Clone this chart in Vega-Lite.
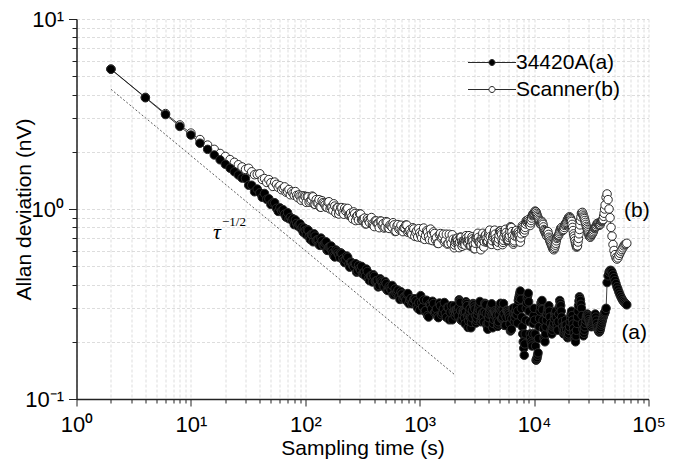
{
  "$schema": "https://vega.github.io/schema/vega-lite/v6.json",
  "width": 572,
  "height": 380,
  "autosize": {"type": "none"},
  "padding": {"left": 76.5, "top": 19, "right": 26.5, "bottom": 63},
  "config": {
    "view": {"stroke": null},
    "font": "Liberation Sans",
    "axis": {
      "domainColor": "#222222",
      "domainWidth": 1.5,
      "tickColor": "#222222",
      "tickWidth": 1,
      "labelFont": "Liberation Sans",
      "labelFontSize": 22,
      "labelColor": "#000000",
      "titleFont": "Liberation Sans",
      "titleFontSize": 21,
      "titleFontWeight": "normal",
      "titleColor": "#000000",
      "grid": true,
      "gridColor": "#d4d4d4",
      "gridDash": [3, 2],
      "gridWidth": 0.8,
      "labelOverlap": false,
      "labelBound": false,
      "labelFlush": false
    }
  },
  "encoding": {
    "x": {
      "field": "t",
      "type": "quantitative",
      "scale": {"type": "log", "domain": [1, 100000], "nice": false},
      "axis": {
        "title": "Sampling time (s)",
        "values": [1,2,3,4,5,6,7,8,9,10,20,30,40,50,60,70,80,90,100,200,300,400,500,600,700,800,900,1000,2000,3000,4000,5000,6000,7000,8000,9000,10000,20000,30000,40000,50000,60000,70000,80000,90000,100000],
        "labelExpr": "datum.value==1?'10⁰':datum.value==10?'10¹':datum.value==100?'10²':datum.value==1000?'10³':datum.value==10000?'10⁴':datum.value==100000?'10⁵':''",
        "tickSize": {"condition": {"test": "indexof([1,10,100,1000,10000,100000], datum.value) >= 0", "value": 7}, "value": 4},
        "labelPadding": 8,
        "titleY": 55.7,
        "titleBaseline": "alphabetic"
      }
    },
    "y": {
      "field": "v",
      "type": "quantitative",
      "scale": {"type": "log", "domain": [0.1, 10], "nice": false},
      "axis": {
        "title": "Allan deviation (nV)",
        "values": [0.1,0.2,0.3,0.4,0.5,0.6,0.7,0.8,0.9,1,2,3,4,5,6,7,8,9,10],
        "labelExpr": "datum.value==0.1?'10⁻¹':datum.value==1?'10⁰':datum.value==10?'10¹':''",
        "tickSize": {"condition": {"test": "indexof([0.1,1,10], datum.value) >= 0", "value": 8}, "value": 4.5},
        "labelPadding": 5,
        "titleX": -46,
        "titleY": 190,
        "titleBaseline": "alphabetic"
      }
    }
  },
  "layer": [
    {
      "data": {"values": [{"t": 2, "v": 4.27}, {"t": 2000, "v": 0.135}]},
      "mark": {"type": "line", "stroke": "#333333", "strokeWidth": 0.8, "strokeDash": [2, 2]},
      "encoding": {}
    },
    {
      "data": {"values": [
        {"t":2,"a":5.44,"b":5.45},{"t":4,"a":3.85,"b":3.87},{"t":6,"a":3.14,"b":3.18},{"t":8,"a":2.72,"b":2.77},{"t":10,"a":2.45,"b":2.51},
        {"t":12,"a":2.22,"b":2.32},{"t":14,"a":2.06,"b":2.17},{"t":16,"a":1.925,"b":2.06},{"t":18,"a":1.815,"b":1.96},{"t":20,"a":1.72,"b":1.89},
        {"t":22,"a":1.64,"b":1.82},{"t":24,"a":1.57,"b":1.76},{"t":26,"a":1.51,"b":1.71},{"t":28,"a":1.455,"b":1.665},{"t":30,"a":1.448,"b":1.615},
        {"t":32,"a":1.334,"b":1.638},{"t":34,"a":1.334,"b":1.57},{"t":36,"a":1.232,"b":1.515},{"t":38,"a":1.274,"b":1.522},{"t":40,"a":1.217,"b":1.533},
        {"t":42,"a":1.152,"b":1.431},{"t":44,"a":1.207,"b":1.446},{"t":46,"a":1.124,"b":1.38},{"t":48,"a":1.133,"b":1.428},{"t":50,"a":1.056,"b":1.374},
        {"t":52,"a":1.079,"b":1.315},{"t":54,"a":1.079,"b":1.386},{"t":56,"a":1.008,"b":1.348},{"t":58,"a":0.971,"b":1.3},{"t":60,"a":1.014,"b":1.326},
        {"t":62,"a":0.978,"b":1.263},{"t":64,"a":0.992,"b":1.283},{"t":66,"a":0.939,"b":1.308},{"t":68,"a":0.906,"b":1.226},{"t":70,"a":0.957,"b":1.235},
        {"t":72,"a":0.889,"b":1.266},{"t":74,"a":0.904,"b":1.188},{"t":76,"a":0.874,"b":1.233},{"t":78,"a":0.889,"b":1.209},{"t":80,"a":0.827,"b":1.181},
        {"t":82,"a":0.876,"b":1.235},{"t":84,"a":0.84,"b":1.179},{"t":86,"a":0.813,"b":1.148},{"t":88,"a":0.829,"b":1.187},{"t":90,"a":0.836,"b":1.169},
        {"t":92,"a":0.787,"b":1.113},{"t":94,"a":0.802,"b":1.173},{"t":96,"a":0.755,"b":1.131},{"t":98,"a":0.794,"b":1.172},{"t":100,"a":0.77,"b":1.162},
        {"t":104,"a":0.779,"b":1.162},{"t":108,"a":0.715,"b":1.086},{"t":113,"a":0.734,"b":1.12},{"t":117,"a":0.672,"b":1.159},{"t":122,"a":0.72,"b":1.058},
        {"t":127,"a":0.689,"b":1.076},{"t":132,"a":0.649,"b":1.12},{"t":137,"a":0.703,"b":1.021},{"t":143,"a":0.646,"b":1.082},{"t":149,"a":0.662,"b":1.052},
        {"t":155,"a":0.606,"b":1.019},{"t":161,"a":0.632,"b":1.092},{"t":168,"a":0.639,"b":1.022},{"t":174,"a":0.585,"b":0.983},{"t":181,"a":0.559,"b":1.036},
        {"t":189,"a":0.599,"b":1.015},{"t":196,"a":0.573,"b":0.941},{"t":204,"a":0.588,"b":1.017},{"t":213,"a":0.546,"b":0.959},{"t":221,"a":0.522,"b":1.01},
        {"t":230,"a":0.566,"b":0.995},{"t":240,"a":0.512,"b":0.927},{"t":249,"a":0.525,"b":0.951},{"t":259,"a":0.503,"b":0.887},{"t":270,"a":0.515,"b":0.945},
        {"t":281,"a":0.465,"b":0.914},{"t":292,"a":0.505,"b":0.873},{"t":304,"a":0.477,"b":0.94},{"t":316,"a":0.456,"b":0.874},{"t":329,"a":0.467,"b":0.896},
        {"t":342,"a":0.483,"b":0.836},{"t":356,"a":0.431,"b":0.872},{"t":371,"a":0.444,"b":0.889},{"t":386,"a":0.413,"b":0.833},{"t":401,"a":0.442,"b":0.808},
        {"t":417,"a":0.418,"b":0.865},{"t":434,"a":0.389,"b":0.84},{"t":452,"a":0.429,"b":0.865},{"t":470,"a":0.411,"b":0.82},{"t":489,"a":0.389,"b":0.794},
        {"t":509,"a":0.405,"b":0.858},{"t":530,"a":0.372,"b":0.796},{"t":551,"a":0.383,"b":0.823},{"t":574,"a":0.396,"b":0.8},{"t":597,"a":0.354,"b":0.825},
        {"t":621,"a":0.359,"b":0.764},{"t":646,"a":0.374,"b":0.828},{"t":672,"a":0.334,"b":0.795},{"t":700,"a":0.357,"b":0.771},{"t":728,"a":0.345,"b":0.795},
        {"t":757,"a":0.331,"b":0.824},{"t":788,"a":0.359,"b":0.754},{"t":820,"a":0.332,"b":0.777},{"t":853,"a":0.317,"b":0.735},{"t":888,"a":0.336,"b":0.785},
        {"t":924,"a":0.329,"b":0.752},{"t":961,"a":0.3,"b":0.712},
        {"t":1000,"a":0.294,"b":0.75},{"t":1040,"a":0.322,"b":0.705},{"t":1083,"a":0.332,"b":0.794},{"t":1126,"a":0.292,"b":0.724},{"t":1172,"a":0.275,"b":0.758},
        {"t":1220,"a":0.315,"b":0.689},{"t":1269,"a":0.299,"b":0.736},{"t":1320,"a":0.318,"b":0.758},{"t":1374,"a":0.288,"b":0.689},{"t":1429,"a":0.273,"b":0.66},
        {"t":1487,"a":0.32,"b":0.732},{"t":1548,"a":0.278,"b":0.703},{"t":1610,"a":0.298,"b":0.737},{"t":1676,"a":0.283,"b":0.683},{"t":1743,"a":0.304,"b":0.654},
        {"t":1814,"a":0.261,"b":0.736},{"t":1887,"a":0.31,"b":0.659},{"t":1964,"a":0.288,"b":0.693},{"t":2043,"a":0.274,"b":0.667},{"t":2126,"a":0.294,"b":0.701},
        {"t":2212,"a":0.333,"b":0.626},{"t":2302,"a":0.26,"b":0.709},{"t":2395,"a":0.291,"b":0.671},{"t":2492,"a":0.249,"b":0.646},{"t":2593,"a":0.31,"b":0.682},
        {"t":2698,"a":0.278,"b":0.724},{"t":2807,"a":0.237,"b":0.641},{"t":2921,"a":0.318,"b":0.678},{"t":3039,"a":0.297,"b":0.618},{"t":3162,"a":0.266,"b":0.719},
        {"t":3290,"a":0.306,"b":0.673},{"t":3424,"a":0.255,"b":0.61},{"t":3562,"a":0.285,"b":0.745},{"t":3706,"a":0.319,"b":0.715},{"t":3857,"a":0.249,"b":0.668},
        {"t":4013,"a":0.268,"b":0.739},{"t":4175,"a":0.307,"b":0.658},{"t":4344,"a":0.237,"b":0.711},{"t":4520,"a":0.291,"b":0.774},{"t":4703,"a":0.276,"b":0.658},
        {"t":4894,"a":0.255,"b":0.695},{"t":5092,"a":0.319,"b":0.766},{"t":5298,"a":0.27,"b":0.649},{"t":5513,"a":0.244,"b":0.746},{"t":5736,"a":0.293,"b":0.722},
        {"t":5968,"a":0.282,"b":0.689},{"t":6210,"a":0.228,"b":0.806},{"t":6462,"a":0.296,"b":0.721},{"t":6723,"a":0.256,"b":0.68},{"t":6996,"a":0.305,"b":0.771},
        {"t":7279,"a":0.33,"b":0.758},{"t":7574,"a":0.37,"b":0.669},{"t":7880,"a":0.24,"b":0.816},{"t":8200,"a":0.17,"b":0.752},{"t":8532,"a":0.3,"b":0.867},
        {"t":8877,"a":0.36,"b":0.879},{"t":9237,"a":0.22,"b":0.819},{"t":9611,"a":0.19,"b":0.922},
        {"t":10000,"a":0.3,"b":0.95},{"t":10405,"a":0.16,"b":0.965},{"t":10827,"a":0.175,"b":0.9},{"t":11264,"a":0.29,"b":0.84},{"t":11721,"a":0.33,"b":0.86},
        {"t":12195,"a":0.21,"b":0.78},{"t":12689,"a":0.24,"b":0.74},{"t":13203,"a":0.3,"b":0.76},{"t":13738,"a":0.27,"b":0.68},{"t":14294,"a":0.22,"b":0.64},
        {"t":14873,"a":0.25,"b":0.61},{"t":15476,"a":0.29,"b":0.66},{"t":16103,"a":0.23,"b":0.72},{"t":16755,"a":0.33,"b":0.76},{"t":17433,"a":0.27,"b":0.8},
        {"t":18139,"a":0.22,"b":0.78},{"t":18874,"a":0.26,"b":0.84},{"t":19638,"a":0.21,"b":0.88},{"t":20434,"a":0.24,"b":0.91},{"t":21261,"a":0.29,"b":0.86},
        {"t":22122,"a":0.235,"b":0.74},{"t":23018,"a":0.2,"b":0.66},{"t":23950,"a":0.27,"b":0.64},{"t":24920,"a":0.345,"b":0.78},{"t":25929,"a":0.3,"b":0.95},
        {"t":26979,"a":0.215,"b":0.92},{"t":28072,"a":0.25,"b":0.85},{"t":29209,"a":0.28,"b":0.78},{"t":30392,"a":0.255,"b":0.72},{"t":31623,"a":0.24,"b":0.73},
        {"t":32903,"a":0.26,"b":0.76},{"t":34236,"a":0.28,"b":0.8},{"t":35622,"a":0.24,"b":0.84},{"t":37065,"a":0.225,"b":0.82},{"t":38566,"a":0.245,"b":0.86},
        {"t":40128,"a":0.27,"b":0.88},{"t":41753,"a":0.288,"b":1.05},{"t":43444,"a":0.41,"b":1.2},{"t":45203,"a":0.465,"b":1.0},{"t":47034,"a":0.475,"b":0.8},
        {"t":48939,"a":0.45,"b":0.65},{"t":50921,"a":0.42,"b":0.575},{"t":52983,"a":0.39,"b":0.545},{"t":55129,"a":0.365,"b":0.57},{"t":57362,"a":0.345,"b":0.6},
        {"t":59685,"a":0.33,"b":0.625},{"t":62102,"a":0.32,"b":0.65},{"t":64617,"a":0.313,"b":0.66},
        {"t":102,"a":0.731,"b":1.084},{"t":106,"a":0.773,"b":1.158},{"t":110.5,"a":0.691,"b":1.103},{"t":115,"a":0.731,"b":1.169},{"t":119.5,"a":0.74,"b":1.062},
        {"t":124.5,"a":0.682,"b":1.12},{"t":129.5,"a":0.687,"b":1.078},{"t":134.5,"a":0.643,"b":1.025},{"t":140,"a":0.68,"b":1.106},{"t":146,"a":0.641,"b":1.07},
        {"t":152,"a":0.672,"b":1.023},{"t":158,"a":0.605,"b":1.084},{"t":164.5,"a":0.633,"b":1.001},{"t":171,"a":0.604,"b":1.024},{"t":177.5,"a":0.568,"b":1.065},
        {"t":185,"a":0.609,"b":0.953},{"t":192.5,"a":0.585,"b":1.017},{"t":200,"a":0.555,"b":0.973},{"t":208.5,"a":0.582,"b":1.017},{"t":217,"a":0.533,"b":0.938},
        {"t":225.5,"a":0.541,"b":0.976},{"t":235,"a":0.557,"b":1.007},{"t":244.5,"a":0.494,"b":0.934},{"t":254,"a":0.523,"b":0.908},{"t":264.5,"a":0.496,"b":0.966},
        {"t":275.5,"a":0.515,"b":0.869},{"t":286.5,"a":0.471,"b":0.926},{"t":298,"a":0.487,"b":0.945},{"t":310,"a":0.499,"b":0.875},{"t":322.5,"a":0.459,"b":0.885},
        {"t":335.5,"a":0.444,"b":0.834},{"t":349,"a":0.469,"b":0.89},{"t":363.5,"a":0.42,"b":0.85},{"t":378.5,"a":0.445,"b":0.902},{"t":393.5,"a":0.451,"b":0.82},
        {"t":409,"a":0.416,"b":0.867},{"t":425.5,"a":0.421,"b":0.837},{"t":443,"a":0.395,"b":0.797},{"t":461,"a":0.418,"b":0.863},{"t":479.5,"a":0.395,"b":0.837},
        {"t":499,"a":0.415,"b":0.802},{"t":519.5,"a":0.374,"b":0.852},{"t":540.5,"a":0.392,"b":0.79},{"t":562.5,"a":0.375,"b":0.812},{"t":585.5,"a":0.354,"b":0.847},
        {"t":609,"a":0.38,"b":0.761},{"t":633.5,"a":0.366,"b":0.815},{"t":659,"a":0.348,"b":0.783},{"t":686,"a":0.367,"b":0.821},{"t":714,"a":0.337,"b":0.76},
        {"t":742.5,"a":0.343,"b":0.793},{"t":772.5,"a":0.356,"b":0.822},{"t":804,"a":0.318,"b":0.765},{"t":836.5,"a":0.338,"b":0.746},{"t":870.5,"a":0.323,"b":0.797},
        {"t":906,"a":0.337,"b":0.718},{"t":942.5,"a":0.31,"b":0.769},{"t":980.5,"a":0.322,"b":0.788},
        {"t":1020,"a":0.35,"b":0.727},{"t":1061,"a":0.305,"b":0.75},{"t":1104,"a":0.29,"b":0.692},{"t":1149,"a":0.331,"b":0.768},{"t":1196,"a":0.27,"b":0.717},
        {"t":1244,"a":0.311,"b":0.784},{"t":1294,"a":0.327,"b":0.682},{"t":1347,"a":0.285,"b":0.743},{"t":1401,"a":0.298,"b":0.707},{"t":1458,"a":0.268,"b":0.658},
        {"t":1517,"a":0.31,"b":0.743},{"t":1579,"a":0.284,"b":0.714},{"t":1643,"a":0.322,"b":0.672},{"t":1709,"a":0.269,"b":0.737},{"t":1778,"a":0.303,"b":0.658},
        {"t":1850,"a":0.286,"b":0.686},{"t":1925,"a":0.261,"b":0.732},{"t":2003,"a":0.309,"b":0.625},{"t":2084,"a":0.294,"b":0.696},{"t":2169,"a":0.273,"b":0.658},
        {"t":2257,"a":0.323,"b":0.71},{"t":2348,"a":0.26,"b":0.636},{"t":2443,"a":0.285,"b":0.683},{"t":2542,"a":0.325,"b":0.724},{"t":2645,"a":0.238,"b":0.658},
        {"t":2752,"a":0.299,"b":0.64},{"t":2864,"a":0.268,"b":0.714},{"t":2980,"a":0.313,"b":0.619},{"t":3100,"a":0.251,"b":0.701},{"t":3226,"a":0.291,"b":0.745},
        {"t":3357,"a":0.326,"b":0.658},{"t":3493,"a":0.27,"b":0.694},{"t":3634,"a":0.254,"b":0.631},{"t":3781,"a":0.314,"b":0.733},{"t":3935,"a":0.233,"b":0.678},
        {"t":4094,"a":0.292,"b":0.774},{"t":4259,"a":0.317,"b":0.651},{"t":4432,"a":0.262,"b":0.738},{"t":4611,"a":0.281,"b":0.699},{"t":4798,"a":0.241,"b":0.642},
        {"t":4993,"a":0.3,"b":0.765},{"t":5195,"a":0.264,"b":0.734},{"t":5405,"a":0.318,"b":0.684},{"t":5624,"a":0.244,"b":0.782},{"t":5852,"a":0.292,"b":0.68},
        {"t":6089,"a":0.267,"b":0.726},{"t":6336,"a":0.233,"b":0.798},{"t":6592,"a":0.301,"b":0.653},{"t":6859,"a":0.281,"b":0.761},{"t":7137,"a":0.251,"b":0.711},
        {"t":7426,"a":0.35,"b":0.72},{"t":7727,"a":0.3,"b":0.74},{"t":8039,"a":0.2,"b":0.79},{"t":8364,"a":0.22,"b":0.8},{"t":8703,"a":0.34,"b":0.85},
        {"t":9055,"a":0.29,"b":0.85},{"t":9422,"a":0.2,"b":0.87},{"t":9804,"a":0.25,"b":0.94},
        {"t":10200,"a":0.22,"b":0.975},{"t":10614,"a":0.165,"b":0.93},{"t":11043,"a":0.24,"b":0.87},{"t":11490,"a":0.32,"b":0.83},{"t":11956,"a":0.26,"b":0.83},
        {"t":12440,"a":0.2,"b":0.76},{"t":12944,"a":0.28,"b":0.72},{"t":13468,"a":0.31,"b":0.71},{"t":14014,"a":0.23,"b":0.66},{"t":14582,"a":0.24,"b":0.62},
        {"t":15172,"a":0.28,"b":0.63},{"t":15787,"a":0.25,"b":0.7},{"t":16426,"a":0.28,"b":0.73},{"t":17091,"a":0.31,"b":0.79},{"t":17783,"a":0.24,"b":0.77},
        {"t":18504,"a":0.23,"b":0.82},{"t":19254,"a":0.23,"b":0.85},{"t":20034,"a":0.22,"b":0.9},{"t":20845,"a":0.27,"b":0.89},{"t":21689,"a":0.26,"b":0.8},
        {"t":22568,"a":0.21,"b":0.7},{"t":23482,"a":0.23,"b":0.63},{"t":24433,"a":0.31,"b":0.7},{"t":25422,"a":0.33,"b":0.87},{"t":26451,"a":0.25,"b":0.96},
        {"t":27521,"a":0.23,"b":0.89},{"t":28636,"a":0.27,"b":0.81},{"t":29797,"a":0.27,"b":0.75},{"t":31004,"a":0.245,"b":0.71},{"t":32259,"a":0.25,"b":0.74},
        {"t":33566,"a":0.27,"b":0.79},{"t":34925,"a":0.26,"b":0.81},{"t":36339,"a":0.23,"b":0.84},{"t":37811,"a":0.232,"b":0.83},{"t":39343,"a":0.258,"b":0.87},
        {"t":40936,"a":0.28,"b":0.95},{"t":42594,"a":0.3,"b":1.15},{"t":44315,"a":0.445,"b":1.12},{"t":46109,"a":0.475,"b":0.9},{"t":47978,"a":0.465,"b":0.72},
        {"t":49921,"a":0.435,"b":0.605},{"t":51936,"a":0.405,"b":0.555},{"t":54046,"a":0.378,"b":0.553},{"t":56235,"a":0.355,"b":0.585},{"t":58512,"a":0.337,"b":0.612},
        {"t":60881,"a":0.325,"b":0.64},{"t":63348,"a":0.316,"b":0.655},
        {"t":2023,"a":0.292,"b":0.646},{"t":2063,"a":0.284,"b":0.682},{"t":2105,"a":0.294,"b":0.699},{"t":2147,"a":0.284,"b":0.68},{"t":2190,"a":0.303,"b":0.642},
        {"t":2234,"a":0.328,"b":0.668},{"t":2280,"a":0.292,"b":0.71},{"t":2325,"a":0.26,"b":0.673},{"t":2371,"a":0.276,"b":0.654},{"t":2419,"a":0.288,"b":0.677},
        {"t":2467,"a":0.267,"b":0.665},{"t":2517,"a":0.287,"b":0.685},{"t":2567,"a":0.318,"b":0.703},{"t":2619,"a":0.274,"b":0.67},{"t":2671,"a":0.258,"b":0.691},
        {"t":2725,"a":0.289,"b":0.682},{"t":2779,"a":0.268,"b":0.641},{"t":2835,"a":0.253,"b":0.678},{"t":2892,"a":0.293,"b":0.696},{"t":2950,"a":0.316,"b":0.649},
        {"t":3009,"a":0.305,"b":0.619},{"t":3069,"a":0.274,"b":0.66},{"t":3131,"a":0.259,"b":0.71},{"t":3194,"a":0.279,"b":0.732},{"t":3258,"a":0.299,"b":0.709},
        {"t":3323,"a":0.316,"b":0.666},{"t":3390,"a":0.291,"b":0.634},{"t":3458,"a":0.263,"b":0.652},{"t":3527,"a":0.278,"b":0.72},{"t":3598,"a":0.27,"b":0.688},
        {"t":3670,"a":0.287,"b":0.673},{"t":3743,"a":0.317,"b":0.724},{"t":3819,"a":0.282,"b":0.701},{"t":3896,"a":0.241,"b":0.673},{"t":3974,"a":0.251,"b":0.709},
        {"t":4053,"a":0.28,"b":0.757},{"t":4134,"a":0.3,"b":0.716},{"t":4217,"a":0.312,"b":0.655},{"t":4301,"a":0.277,"b":0.681},{"t":4388,"a":0.25,"b":0.725},
        {"t":4476,"a":0.277,"b":0.756},{"t":4565,"a":0.286,"b":0.737},{"t":4657,"a":0.279,"b":0.679},{"t":4750,"a":0.259,"b":0.65},{"t":4846,"a":0.248,"b":0.669},
        {"t":4943,"a":0.278,"b":0.73},{"t":5042,"a":0.31,"b":0.766},{"t":5143,"a":0.292,"b":0.75},{"t":5246,"a":0.267,"b":0.692},{"t":5351,"a":0.294,"b":0.667},
        {"t":5459,"a":0.281,"b":0.715},{"t":5568,"a":0.244,"b":0.764},{"t":5680,"a":0.269,"b":0.752},{"t":5794,"a":0.293,"b":0.701},{"t":5910,"a":0.287,"b":0.685},
        {"t":6028,"a":0.275,"b":0.708},{"t":6149,"a":0.248,"b":0.766},{"t":6273,"a":0.231,"b":0.802},{"t":6399,"a":0.265,"b":0.76},{"t":6527,"a":0.299,"b":0.687},
        {"t":6657,"a":0.279,"b":0.667},{"t":6791,"a":0.269,"b":0.721},{"t":6927,"a":0.293,"b":0.766},{"t":7066,"a":0.278,"b":0.741},{"t":7208,"a":0.291,"b":0.735},
        {"t":7352,"a":0.34,"b":0.739},{"t":7500,"a":0.36,"b":0.695},{"t":7650,"a":0.335,"b":0.705},{"t":7803,"a":0.27,"b":0.778},{"t":7959,"a":0.22,"b":0.803},
        {"t":8119,"a":0.185,"b":0.771},{"t":8282,"a":0.195,"b":0.776},{"t":8448,"a":0.26,"b":0.834},{"t":8617,"a":0.32,"b":0.859},{"t":8790,"a":0.35,"b":0.865},
        {"t":8966,"a":0.325,"b":0.865},{"t":9146,"a":0.255,"b":0.835},{"t":9329,"a":0.21,"b":0.845},{"t":9516,"a":0.195,"b":0.896},{"t":9707,"a":0.22,"b":0.931},
        {"t":9902,"a":0.275,"b":0.945},{"t":10100,"a":0.26,"b":0.963},{"t":10302,"a":0.19,"b":0.97},{"t":10509,"a":0.162,"b":0.948},{"t":10720,"a":0.17,"b":0.915},
        {"t":10935,"a":0.208,"b":0.885},{"t":11153,"a":0.265,"b":0.855},{"t":11377,"a":0.305,"b":0.835},{"t":11605,"a":0.325,"b":0.845},{"t":11838,"a":0.295,"b":0.845},
        {"t":12075,"a":0.235,"b":0.805},{"t":12317,"a":0.205,"b":0.77},{"t":12564,"a":0.22,"b":0.75},{"t":12816,"a":0.26,"b":0.73},{"t":13073,"a":0.29,"b":0.74},
        {"t":13335,"a":0.305,"b":0.735},{"t":13603,"a":0.29,"b":0.695},{"t":13876,"a":0.25,"b":0.67},{"t":14154,"a":0.225,"b":0.65},{"t":14438,"a":0.23,"b":0.63},
        {"t":14727,"a":0.245,"b":0.615},{"t":15022,"a":0.265,"b":0.62},{"t":15324,"a":0.285,"b":0.645},{"t":15631,"a":0.27,"b":0.68},{"t":15945,"a":0.24,"b":0.71},
        {"t":16264,"a":0.255,"b":0.725},{"t":16590,"a":0.305,"b":0.745},{"t":16923,"a":0.32,"b":0.775},{"t":17262,"a":0.29,"b":0.795},{"t":17608,"a":0.255,"b":0.785},
        {"t":17961,"a":0.23,"b":0.775},{"t":18321,"a":0.225,"b":0.8},{"t":18689,"a":0.245,"b":0.83},{"t":19064,"a":0.245,"b":0.845},{"t":19446,"a":0.22,"b":0.865},
        {"t":19836,"a":0.215,"b":0.89},{"t":20234,"a":0.23,"b":0.905},{"t":20640,"a":0.255,"b":0.9},{"t":21053,"a":0.28,"b":0.875},{"t":21475,"a":0.275,"b":0.83},
        {"t":21905,"a":0.248,"b":0.77},{"t":22345,"a":0.222,"b":0.72},{"t":22793,"a":0.205,"b":0.68},{"t":23250,"a":0.215,"b":0.645},{"t":23716,"a":0.25,"b":0.635},
        {"t":24191,"a":0.29,"b":0.67},{"t":24676,"a":0.328,"b":0.74},{"t":25171,"a":0.338,"b":0.825},{"t":25675,"a":0.315,"b":0.91},{"t":26190,"a":0.275,"b":0.955},
        {"t":26715,"a":0.232,"b":0.94},{"t":27250,"a":0.222,"b":0.905},{"t":27796,"a":0.24,"b":0.87},{"t":28354,"a":0.26,"b":0.83},{"t":28922,"a":0.275,"b":0.795},
        {"t":29503,"a":0.275,"b":0.765},{"t":30094,"a":0.262,"b":0.735},{"t":30698,"a":0.25,"b":0.715},{"t":31313,"a":0.242,"b":0.72},{"t":31941,"a":0.245,"b":0.735},
        {"t":32581,"a":0.255,"b":0.75},{"t":33234,"a":0.265,"b":0.775},{"t":33901,"a":0.275,"b":0.795},{"t":34580,"a":0.27,"b":0.805},{"t":35273,"a":0.25,"b":0.825},
        {"t":35980,"a":0.235,"b":0.84},{"t":36702,"a":0.228,"b":0.83},{"t":37438,"a":0.228,"b":0.825},{"t":38188,"a":0.238,"b":0.845},{"t":38954,"a":0.251,"b":0.865},
        {"t":39735,"a":0.264,"b":0.875},{"t":40532,"a":0.275,"b":0.915},{"t":41344,"a":0.284,"b":1.0}
      ]},
      "transform": [{"fold": ["a", "b"], "as": ["series", "v"]}],
      "layer": [
        {
          "mark": {"type": "line", "stroke": "#111111", "strokeWidth": 0.8},
          "encoding": {
            "detail": {"field": "series", "type": "nominal"}
          }
        },
        {
          "transform": [{"filter": "datum.series == 'b'"}],
          "mark": {"type": "point", "shape": "circle", "filled": true, "size": 72, "stroke": "#2a2a2a", "strokeWidth": 1, "opacity": 1},
          "encoding": {
            "fill": {
              "field": "series",
              "type": "nominal",
              "scale": {"domain": ["a", "b"], "range": ["#000000", "#ffffff"]},
              "legend": {
                "title": null,
                "orient": "none",
                "legendX": 405,
                "legendY": 33,
                "padding": 0,
                "symbolType": "M-4.8,0H-0.6M0.6,0A0.6,0.6,0,1,1,-0.6,0A0.6,0.6,0,1,1,0.6,0M0.6,0H4.8",
                "symbolSize": 100,
                "symbolStrokeWidth": 1,
                "labelFont": "Liberation Sans",
                "labelFontSize": 21,
                "labelColor": "#000000",
                "labelOffset": 13.5,
                "rowPadding": 5,
                "labelLimit": 300,
                "labelExpr": "datum.label == 'a' ? '34420A(a)' : '\u00a0Scanner(b)'"
              }
            },
            "order": {"field": "t", "type": "quantitative", "sort": "ascending"}
          }
        },
        {
          "transform": [{"filter": "datum.series == 'a'"}],
          "mark": {"type": "point", "shape": "circle", "filled": true, "size": 72, "stroke": "#2a2a2a", "strokeWidth": 1, "opacity": 1},
          "encoding": {
            "fill": {
              "field": "series",
              "type": "nominal",
              "scale": {"domain": ["a", "b"], "range": ["#000000", "#ffffff"]},
              "legend": {
                "title": null,
                "orient": "none",
                "legendX": 405,
                "legendY": 33,
                "padding": 0,
                "symbolType": "M-4.8,0H-0.6M0.6,0A0.6,0.6,0,1,1,-0.6,0A0.6,0.6,0,1,1,0.6,0M0.6,0H4.8",
                "symbolSize": 100,
                "symbolStrokeWidth": 1,
                "labelFont": "Liberation Sans",
                "labelFontSize": 21,
                "labelColor": "#000000",
                "labelOffset": 13.5,
                "rowPadding": 5,
                "labelLimit": 300,
                "labelExpr": "datum.label == 'a' ? '34420A(a)' : '\u00a0Scanner(b)'"
              }
            },
            "order": {"field": "t", "type": "quantitative", "sort": "ascending"}
          }
        }
      ]
    },
    {
      "data": {"values": [{"t": 79170, "v": 0.974, "label": "(b)"}, {"t": 75000, "v": 0.222, "label": "(a)"}]},
      "mark": {"type": "text", "font": "Liberation Sans", "fontSize": 21, "align": "center", "baseline": "middle", "color": "#000000"},
      "encoding": {"text": {"field": "label"}}
    },
    {
      "data": {"values": [{"t": 15.6, "v": 0.695, "label": "τ"}]},
      "mark": {"type": "text", "font": "Liberation Serif", "fontSize": 22, "fontStyle": "italic", "align": "left", "baseline": "alphabetic", "color": "#000000"},
      "encoding": {"text": {"field": "label"}}
    },
    {
      "data": {"values": [{"t": 18.7, "v": 0.814, "label": "−1/2"}]},
      "mark": {"type": "text", "font": "Liberation Serif", "fontSize": 13, "align": "left", "baseline": "alphabetic", "color": "#000000"},
      "encoding": {"text": {"field": "label"}}
    }
  ]
}
